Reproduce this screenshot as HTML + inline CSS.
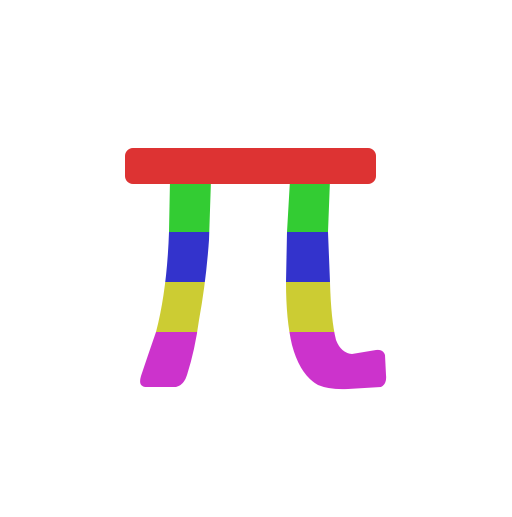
<!DOCTYPE html>
<html><head><meta charset="utf-8"><style>html,body{margin:0;padding:0;background:#fff;}</style></head>
<body>
<svg width="512" height="512" viewBox="0 0 512 512">
<defs>
<clipPath id="legs">
<path d="M170,180 L169,232 Q167,290 156,332 Q148,355 141,376 Q138,386 145,387 L176,387 Q184,385 187,375 Q195,350 199,320 Q206,282 209,240 L211,180 Z"/>
<path d="M290,180 L287,232 L286,282 Q286,320 292,345 Q300,375 318,385 Q330,390 348,389 L381,387 Q387,384 386,375 L385,355 Q383,349 376,350 L352,354 Q341,353 336,340 Q331,320 330,282 L328,232 L330,180 Z"/>
</clipPath>
</defs>
<g clip-path="url(#legs)">
<rect x="100" y="175" width="320" height="57" fill="#33cc33"/>
<rect x="100" y="232" width="320" height="50" fill="#3333cc"/>
<rect x="100" y="282" width="320" height="50" fill="#cccc33"/>
<rect x="100" y="332" width="320" height="70" fill="#cc33cc"/>
</g>
<rect x="125" y="148" width="251" height="36" rx="8" fill="#dd3333"/>
</svg>
</body></html>
